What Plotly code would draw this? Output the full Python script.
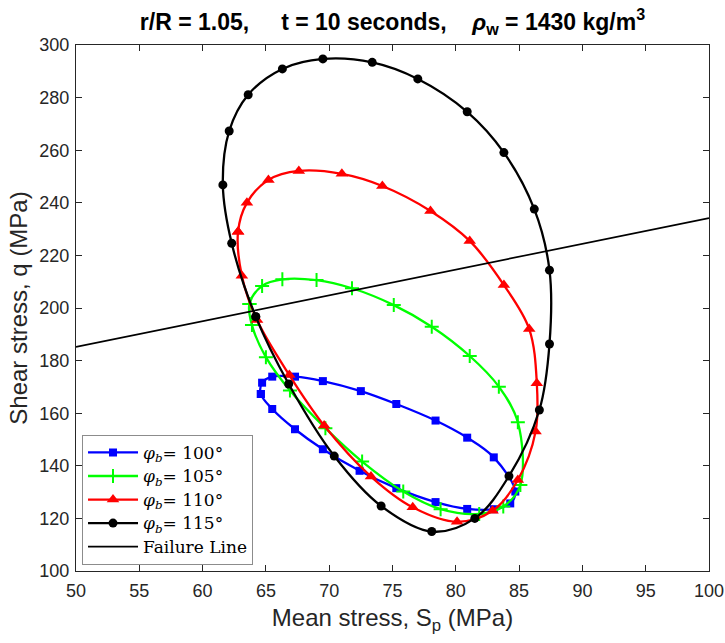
import plotly.graph_objects as go

# Stress paths (mean stress Sp, shear stress q) in MPa for each borehole angle
sp_100 = [64.6, 64.7, 65.5, 67.3, 69.5, 72.5, 75.3, 78.4, 80.9, 83.0, 84.7, 84.3, 83.0,
          80.9, 78.4, 75.3, 72.4, 69.5, 67.3, 65.5, 64.6]
q_100 = [167.3, 171.6, 173.9, 173.9, 172.2, 168.4, 163.5, 157.2, 150.7, 143.2, 130.2, 125.7,
         123.5, 123.6, 126.2, 131.5, 138.1, 146.3, 153.9, 161.6, 167.3]

sp_105 = [63.7, 64.7, 66.3, 69.0, 71.8, 75.1, 78.1, 81.1, 83.4, 84.9, 85.1, 83.75, 81.85,
          78.8, 75.85, 72.6, 69.7, 66.9, 65.0, 63.9, 63.7]
q_105 = [201.5, 208.4, 210.9, 210.6, 207.5, 201.1, 192.9, 181.75, 170.1, 156.6, 132.7, 124.5,
         121.7, 123.5, 130.2, 141.6, 154.3, 168.6, 181.3, 193.5, 201.5]

sp_110 = [62.8, 63.5, 65.2, 67.6, 71.0, 74.2, 78.0, 81.1, 83.8, 85.8, 86.4, 86.3, 84.9,
          82.9, 80.1, 76.6, 73.3, 69.6, 66.85, 64.3, 63.1, 62.8]
q_110 = [229.0, 240.0, 248.7, 252.1, 251.0, 246.4, 236.9, 225.5, 208.7, 192.0, 171.4, 153.0,
         134.6, 122.9, 118.7, 124.2, 135.9, 155.3, 174.5, 195.4, 212.3, 229.0]

sp_115 = [64.2, 62.3, 61.6, 62.1, 63.6, 66.3, 69.5, 73.4, 77.0, 80.9, 83.8, 86.2, 87.4,
          87.4, 86.6, 84.2, 81.5, 78.1, 74.1, 70.4, 66.8, 64.2]
q_115 = [196.7, 224.6, 246.8, 267.3, 281.1, 290.9, 294.7, 293.4, 287.1, 274.6, 259.1, 237.6,
         214.4, 186.3, 161.2, 136.1, 120.0, 115.0, 124.7, 143.7, 171.1, 196.7]

# Failure line end points
sp_fail = [50, 100]
q_fail = [185.2, 234.2]

x_ticks = list(range(50, 101, 5))
y_ticks = list(range(100, 301, 20))

sans = "Liberation Sans, Arial, sans-serif"
serif = "DejaVu Serif, Liberation Serif, serif"


def legend_label(text):
    # glyph size set independently of the legend's row spacing
    return f'<span style="font-size:17px">{text}</span>'


fig = go.Figure()

series = [
    (sp_100, q_100, "#0000FF", "square", 8, "100"),
    (sp_105, q_105, "#00FF00", "cross-thin-open", 10, "105"),
    (sp_110, q_110, "#FF0000", "triangle-up", 11, "110"),
    (sp_115, q_115, "#000000", "circle", 9, "115"),
]
for xs, ys, col, sym, size, ang in series:
    fig.add_trace(go.Scatter(
        x=xs, y=ys, mode="lines+markers",
        line=dict(color=col, width=2.3, shape="spline", smoothing=1.0),
        marker=dict(symbol=sym, size=size, color=col,
                    line=dict(color=col, width=2 if "open" in sym else 0)),
        name=legend_label(f"<i>φ</i><sub><i>b</i></sub>= {ang}°"),
    ))

fig.add_trace(go.Scatter(
    x=sp_fail, y=q_fail, mode="lines",
    line=dict(color="black", width=1.7),
    name=legend_label("Failure Line"),
))

axis_common = dict(
    showgrid=False, zeroline=False, showline=True, mirror="ticks",
    linecolor="#262626", linewidth=1, ticks="inside", ticklen=6,
    tickcolor="#262626", tickwidth=1, automargin=False,
    tickfont=dict(family=sans, size=18, color="#262626"),
)

fig.update_layout(
    width=725, height=643,
    margin=dict(l=76, r=16, t=45, b=72),
    paper_bgcolor="white", plot_bgcolor="white",
    title=dict(
        text="<b>r/R = 1.05,\u00a0\u00a0\u00a0\u00a0 t = 10 seconds,\u00a0\u00a0\u00a0 "
             "<i>ρ</i><sub>w</sub> = 1430 kg/m<sup>3</sup></b>",
        x=0.5, xref="paper", xanchor="center", y=0.966, yanchor="middle",
        font=dict(family=sans, size=23, color="black"),
    ),
    xaxis=dict(range=[50, 100], tickvals=x_ticks, ticklabelstandoff=3,
               title=dict(text="Mean stress, S<sub>p</sub> (MPa)", standoff=9,
                          font=dict(family=sans, size=24, color="#262626")),
               **axis_common),
    yaxis=dict(range=[100, 300], tickvals=y_ticks, ticklabelstandoff=2,
               title=dict(text="Shear stress, q (MPa)", standoff=4,
                          font=dict(family=sans, size=24, color="#262626")),
               **axis_common),
    legend=dict(
        x=0.0095, y=0.012, xanchor="left", yanchor="bottom",
        bgcolor="white", bordercolor="#8c8c8c", borderwidth=1,
        font=dict(family=serif, size=15.8, color="black"),
        itemwidth=50, tracegroupgap=0,
    ),
    showlegend=True,
)

fig.write_html("out.html")
